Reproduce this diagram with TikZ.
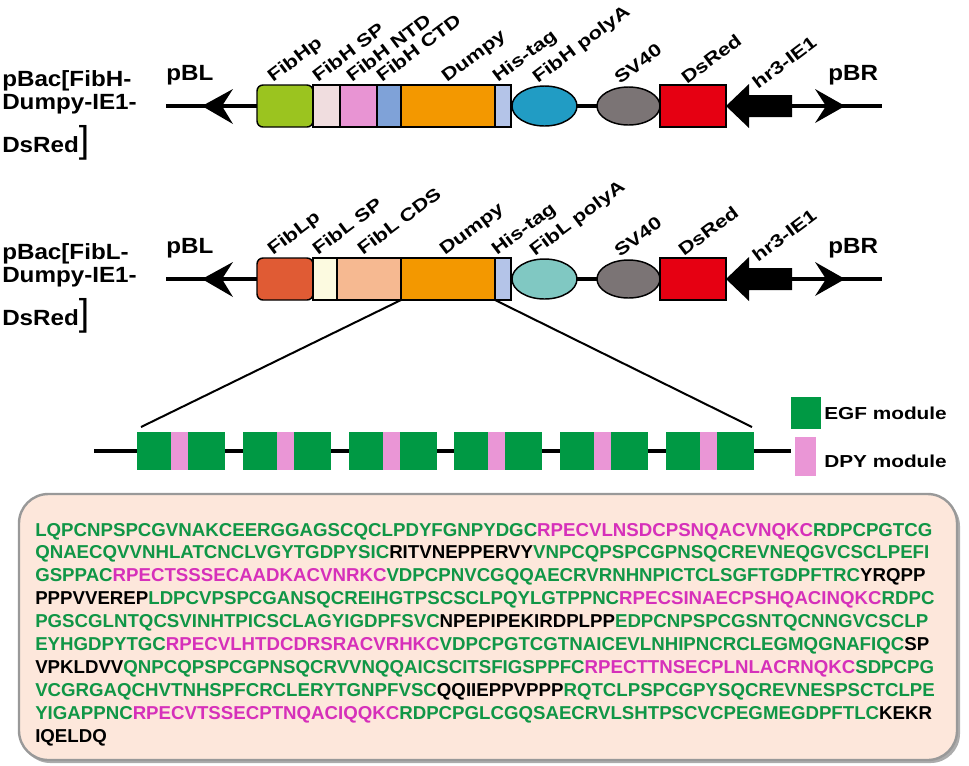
\documentclass[tikz,border=0pt]{standalone}
\usepackage{fontspec}
\setmainfont{Liberation Sans}
\newfontfamily\lblfont{Liberation Sans}[FakeStretch=1.25]
\newfontfamily\ttlfont{Liberation Sans}[FakeStretch=1.1]
\newfontfamily\legfont{Liberation Sans}[FakeStretch=1.2]
\newfontfamily\seqfont{Liberation Sans}
\newfontfamily\brfont{Liberation Sans}
\usetikzlibrary{shapes.geometric}
\definecolor{cFibHp}{RGB}{155,196,31}
\definecolor{cFibHSP}{RGB}{240,221,223}
\definecolor{cNTD}{RGB}{232,148,211}
\definecolor{cCTD}{RGB}{127,162,216}
\definecolor{cDumpy}{RGB}{243,152,0}
\definecolor{cHis}{RGB}{180,196,232}
\definecolor{cPolyH}{RGB}{33,156,196}
\definecolor{cSV}{RGB}{123,116,117}
\definecolor{cDsRed}{RGB}{230,0,18}
\definecolor{cFibLp}{RGB}{224,91,52}
\definecolor{cFibLSP}{RGB}{252,250,224}
\definecolor{cCDS}{RGB}{246,185,145}
\definecolor{cPolyL}{RGB}{128,200,194}
\definecolor{cEGF}{RGB}{0,153,68}
\definecolor{cDPY}{RGB}{234,150,214}
\definecolor{seqg}{RGB}{16,150,70}
\definecolor{seqm}{RGB}{214,48,186}
\definecolor{seqbg}{RGB}{253,231,219}
\newcommand{\seqG}[1]{\textcolor{seqg}{#1}}
\newcommand{\seqM}[1]{\textcolor{seqm}{#1}}
\newcommand{\seqK}[1]{\textcolor{black}{#1}}
\newcommand{\bigbrk}{{\brfont\mdseries\fontsize{28}{28}\selectfont]}}
\begin{document}
\begin{tikzpicture}[x=0.75pt,y=-0.75pt,
  part/.style={draw=black, line width=1.1pt, minimum height=31.5pt, inner sep=0pt, outer sep=0pt},
  bb/.style={line width=2.9pt},
  zl/.style={line width=1.5pt},
  lbl/.style={font=\lblfont\bfseries\fontsize{13.2}{13.2}\selectfont, rotate=37, anchor=base west, inner sep=0pt},
  ttl/.style={font=\ttlfont\bfseries\fontsize{16.5}{16.5}\selectfont, anchor=base west, inner sep=0pt},
  leg/.style={font=\legfont\bfseries\fontsize{13}{13}\selectfont, anchor=base west, inner sep=0pt},
  seq/.style={font=\seqfont\bfseries\fontsize{14}{14}\selectfont, anchor=base west, inner sep=0pt},
  egf/.style={fill=cEGF},
  dpy/.style={fill=cDPY}]
\useasboundingbox (0,0) rectangle (969,765);

% ---------- Row 1 ----------
\coordinate (pbl1) at (166,106);
\coordinate (pbr1) at (882,106);
\coordinate (hr3e1) at (792,106);
\node[part, rounded corners=4.5pt, fill=cFibHp, minimum width=42pt] (fibhp) at (285,106) {};
\node[part, fill=cFibHSP, minimum width=20.25pt] (fibhsp) at (326.5,106) {};
\node[part, fill=cNTD, minimum width=27.75pt] (ntd) at (358.5,106) {};
\node[part, fill=cCTD, minimum width=18pt] (ctd) at (389,106) {};
\node[part, fill=cDumpy, minimum width=70.5pt] (dumpy1) at (448,106) {};
\node[part, fill=cHis, minimum width=12pt] (his1) at (503,106) {};
\node[part, ellipse, fill=cPolyH, minimum width=48.75pt, minimum height=30pt] (polya1) at (544.5,106) {};
\node[part, ellipse, fill=cSV, minimum width=47.25pt, minimum height=28.5pt] (sv1) at (628.5,106) {};
\node[part, fill=cDsRed, minimum width=49.5pt] (dsred1) at (693,106) {};
\draw[bb] (pbl1) -- (fibhp.west);
\draw[bb] (polya1.east) -- (sv1.west);
\draw[bb] (hr3e1) -- (pbr1);
\fill (dsred1.east) -- (749,84) -- (749,95) -- (792,95) -- (792,117) -- (749,117) -- (749,128) -- cycle;
\fill (202,106) -- (233,89) -- (222,106) -- (233,124) -- cycle;
\fill (845,106) -- (815,89) -- (826,106) -- (815,123) -- cycle;
\node[lbl] (l1a) at (273,83) {FibHp};
\node[lbl] (l1b) at (318,83) {FibH SP};
\node[lbl] (l1c) at (352,83) {FibH NTD};
\node[lbl] (l1d) at (382,83) {FibH CTD};
\node[lbl] (l1e) at (447,83) {Dumpy};
\node[lbl] (l1f) at (498,83) {His-tag};
\node[lbl] (l1g) at (538,84) {FibH polyA};
\node[lbl] (l1h) at (620,85) {SV40};
\node[lbl] (l1i) at (687,85) {DsRed};
\node[lbl] (l1j) at (758,90) {hr3-IE1};
\node[ttl] (pbl1t) at (166,80) {pBL};
\node[ttl] (pbr1t) at (828,80) {pBR};
\node[ttl] (t1a) at (2,86) {pBac[FibH-};
\node[ttl] (t1b) at (2,109) {Dumpy-IE1-};
\node[ttl] (t1c) at (2,152) {DsRed\bigbrk};

% ---------- Row 2 ----------
\coordinate (pbl2) at (166,279);
\coordinate (pbr2) at (882,279);
\coordinate (hr3e2) at (792,279);
\node[part, rounded corners=4.5pt, fill=cFibLp, minimum width=42pt] (fiblp) at (285,279) {};
\node[part, fill=cFibLSP, minimum width=18pt] (fiblsp) at (325,279) {};
\node[part, fill=cCDS, minimum width=48pt] (cds) at (369,279) {};
\node[part, fill=cDumpy, minimum width=70.5pt] (dumpy2) at (448,279) {};
\node[part, fill=cHis, minimum width=12pt] (his2) at (503,279) {};
\node[part, ellipse, fill=cPolyL, minimum width=48.75pt, minimum height=30pt] (polya2) at (544.5,279) {};
\node[part, ellipse, fill=cSV, minimum width=47.25pt, minimum height=28.5pt] (sv2) at (628.5,279) {};
\node[part, fill=cDsRed, minimum width=49.5pt] (dsred2) at (693,279) {};
\draw[bb] (pbl2) -- (fiblp.west);
\draw[bb] (polya2.east) -- (sv2.west);
\draw[bb] (hr3e2) -- (pbr2);
\fill (dsred2.east) -- (749,257) -- (749,268) -- (792,268) -- (792,290) -- (749,290) -- (749,301) -- cycle;
\fill (202,279) -- (233,262) -- (222,279) -- (233,297) -- cycle;
\fill (845,279) -- (815,262) -- (826,279) -- (815,296) -- cycle;
\node[lbl] (l2a) at (273,256) {FibLp};
\node[lbl] (l2b) at (318,256) {FibL SP};
\node[lbl] (l2c) at (363,256) {FibL CDS};
\node[lbl] (l2e) at (445,256) {Dumpy};
\node[lbl] (l2f) at (497,256) {His-tag};
\node[lbl] (l2g) at (535,257) {FibL polyA};
\node[lbl] (l2h) at (620,258) {SV40};
\node[lbl] (l2i) at (684,257) {DsRed};
\node[lbl] (l2j) at (758,263) {hr3-IE1};
\node[ttl] (pbl2t) at (166,253) {pBL};
\node[ttl] (pbr2t) at (828,253) {pBR};
\node[ttl] (t2a) at (2,259) {pBac[FibL-};
\node[ttl] (t2b) at (2,282) {Dumpy-IE1-};
\node[ttl] (t2c) at (2,325) {DsRed\bigbrk};

% ---------- Module row ----------
\coordinate (zoomL) at (141,427);
\coordinate (zoomR) at (752,427);
\coordinate (ms) at (94,451);
\coordinate (me) at (791,451);
\draw[zl] (dumpy2.south west) -- (zoomL);
\draw[zl] (dumpy2.south east) -- (zoomR);
\draw[bb] (ms) -- (me);
\foreach \i in {0,...,5}{
  \pgfmathsetmacro{\s}{137+105.8*\i}
  \fill[egf] (\s,432) rectangle ++(34,38);
  \fill[dpy] (\s+34,432) rectangle ++(17,38);
  \fill[egf] (\s+51,432) rectangle ++(37,38);
}
\fill[egf] (790.5,397) rectangle (820.5,429);
\fill[dpy] (795,437) rectangle (816,476);
\node[leg] (legegf) at (824,419) {EGF module};
\node[leg] (legdpy) at (824,467) {DPY module};

% ---------- Sequence box ----------
\fill[gray!65, rounded corners=22pt] (21,497) rectangle (960,763);
\draw[fill=seqbg, draw=gray!80, line width=1.8pt, rounded corners=22pt] (19,494) rectangle (957,760);
\node[seq] (s1) at (35,536) {\seqG{LQPCNPSPCGVNAKCEERGGAGSCQCLPDYFGNPYDGC}\seqM{RPECVLNSDCPSNQACVNQKC}\seqG{RDPCPGTCG}};
\node[seq] (s2) at (35,558.9) {\seqG{QNAECQVVNHLATCNCLVGYTGDPYSIC}\seqK{RITVNEPPERVY}\seqG{VNPCQPSPCGPNSQCREVNEQGVCSCLPEFI}};
\node[seq] (s3) at (35,581.8) {\seqG{GSPPAC}\seqM{RPECTSSSECAADKACVNRKC}\seqG{VDPCPNVCGQQAECRVRNHNPICTCLSGFTGDPFTRC}\seqK{YRQPP}};
\node[seq] (s4) at (35,604.7) {\seqK{PPPVVEREP}\seqG{LDPCVPSPCGANSQCREIHGTPSCSCLPQYLGTPPNC}\seqM{RPECSINAECPSHQACINQKC}\seqG{RDPC}};
\node[seq] (s5) at (35,627.6) {\seqG{PGSCGLNTQCSVINHTPICSCLAGYIGDPFSVC}\seqK{NPEPIPEKIRDPLPP}\seqG{EDPCNPSPCGSNTQCNNGVCSCLP}};
\node[seq] (s6) at (35,650.5) {\seqG{EYHGDPYTGC}\seqM{RPECVLHTDCDRSRACVRHKC}\seqG{VDPCPGTCGTNAICEVLNHIPNCRCLEGMQGNAFIQC}\seqK{SP}};
\node[seq] (s7) at (35,673.4) {\seqK{VPKLDVV}\seqG{QNPCQPSPCGPNSQCRVVNQQAICSCITSFIGSPPFC}\seqM{RPECTTNSECPLNLACRNQKC}\seqG{SDPCPG}};
\node[seq] (s8) at (35,696.3) {\seqG{VCGRGAQCHVTNHSPFCRCLERYTGNPFVSC}\seqK{QQIIEPPVPPP}\seqG{RQTCLPSPCGPYSQCREVNESPSCTCLPE}};
\node[seq] (s9) at (35,719.2) {\seqG{YIGAPPNC}\seqM{RPECVTSSECPTNQACIQQKC}\seqG{RDPCPGLCGQSAECRVLSHTPSCVCPEGMEGDPFTLC}\seqK{KEKR}};
\node[seq] (s10) at (35,742.1) {\seqK{IQELDQ}};
\end{tikzpicture}
\end{document}
